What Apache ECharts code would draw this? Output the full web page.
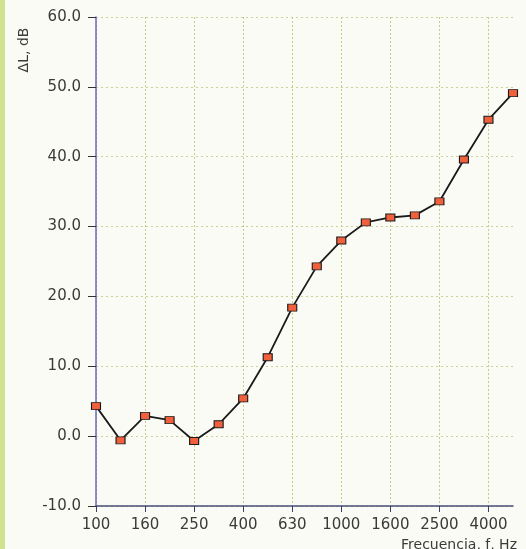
<!DOCTYPE html>
<html>
<head>
<meta charset="utf-8">
<script src="https://cdn.jsdelivr.net/npm/echarts@6/dist/echarts.min.js"></script>
<style>html,body{margin:0;padding:0;background:#fbfbf6;}#c{width:526px;height:549px;}</style>
</head>
<body>
<div id="c"></div>
<script>
const frequencies = ['100','125','160','200','250','315','400','500','630','800','1000','1250','1600','2000','2500','3150','4000','5000'];
const deltaL = [4.3, -0.6, 2.9, 2.3, -0.7, 1.7, 5.4, 11.3, 18.4, 24.3, 28.0, 30.6, 31.3, 31.6, 33.6, 39.6, 45.3, 49.1];
const yTicks = { min: -10, max: 60, interval: 10 };

const chart = echarts.init(document.getElementById('c'));
const font = '"DejaVu Sans", Verdana, sans-serif';
chart.setOption({
  backgroundColor: '#fbfbf6',
  animation: false,
  grid: { left: 96, right: 13, top: 17, bottom: 43, containLabel: false },
  graphic: [
    { type: 'rect', left: 0, top: 0, shape: { width: 5, height: 549 }, style: { fill: '#cfe38f' } },
    { type: 'text', x: 24, y: 50, rotation: Math.PI / 2, style: { text: 'ΔL, dB', font: '14px ' + font, fill: '#3a3a3a', align: 'center', verticalAlign: 'middle' } },
    { type: 'text', right: 9, top: 538, style: { text: 'Frecuencia, f, Hz', font: '14px ' + font, fill: '#3a3a3a' } }
  ],
  xAxis: {
    type: 'category',
    data: frequencies,
    boundaryGap: false,
    axisLine: { onZero: false, lineStyle: { color: '#4a4f7a', width: 1.5 } },
    axisTick: { show: true, interval: 1, length: 6, inside: false, lineStyle: { color: '#3a3f6a' } },
    axisLabel: { interval: 1, margin: 12, fontSize: 15, color: '#3a3a3a', fontFamily: font },
    splitLine: { show: true, interval: 1, lineStyle: { color: '#c9c98a', type: [2, 2], width: 1 } }
  },
  yAxis: {
    type: 'value',
    min: yTicks.min, max: yTicks.max, interval: yTicks.interval,
    axisLine: { show: true, lineStyle: { color: '#6a6ac0', width: 1.5 } },
    axisTick: { show: true, length: 8, lineStyle: { color: '#333' } },
    axisLabel: { margin: 15, fontSize: 15, color: '#3a3a3a', fontFamily: font, formatter: v => v.toFixed(1) },
    splitLine: { show: true, lineStyle: { color: '#cfcf9a', type: [2, 3], width: 1 } }
  },
  series: [{
    type: 'line',
    data: deltaL,
    symbol: 'rect',
    symbolSize: [9, 7],
    showAllSymbol: true,
    lineStyle: { color: '#1a1a1a', width: 1.8 },
    itemStyle: { color: '#f0603c', borderColor: '#1a1a1a', borderWidth: 1 }
  }]
});
</script>
</body>
</html>
